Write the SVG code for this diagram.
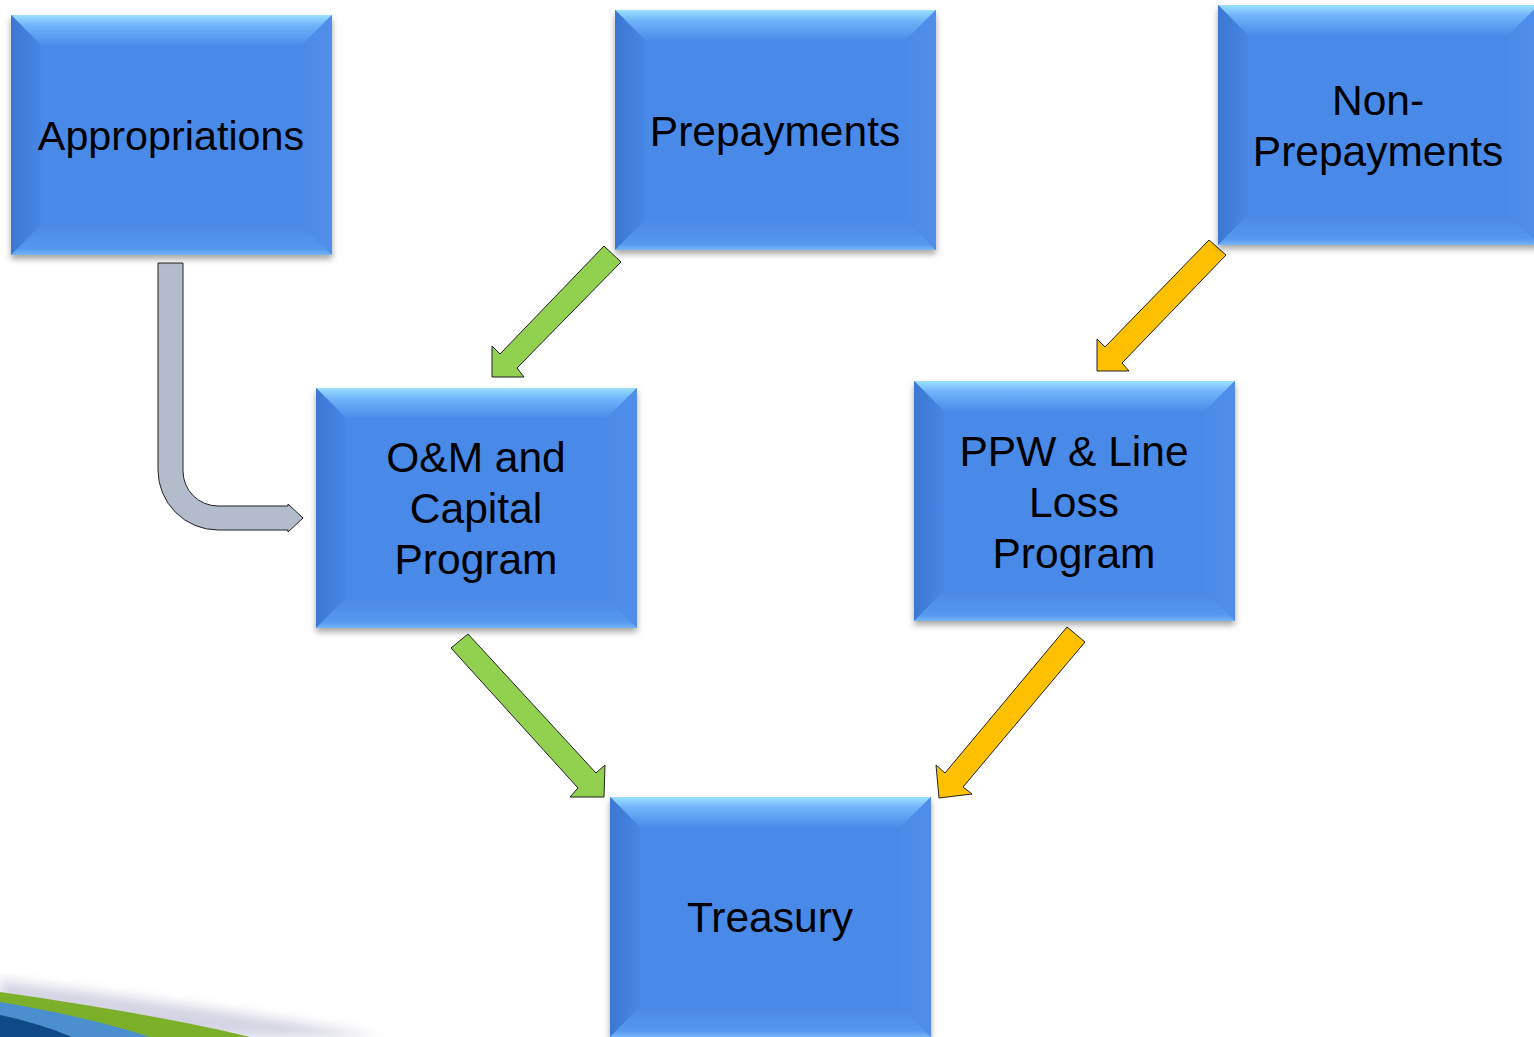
<svg xmlns="http://www.w3.org/2000/svg" xmlns:xlink="http://www.w3.org/1999/xlink" width="1534" height="1037" viewBox="0 0 1534 1037">
<defs>
<style>
.lbl{font-family:"Liberation Sans",Arial,sans-serif;font-size:42.5px;fill:#000;text-anchor:middle}
.lbl.sm{font-size:41.3px}
.arrow{stroke:#222;stroke-width:1}
.green{fill:#92d050}
.orange{fill:#ffc000}
.gray{fill:#b3bccb}
</style>
<linearGradient id="gTop" x1="0" y1="0" x2="0" y2="1"><stop offset="0" stop-color="#9be0ff"/><stop offset="0.35" stop-color="#6fb4fa"/><stop offset="1" stop-color="#4c8ce8"/></linearGradient>
<linearGradient id="gLeft" x1="0" y1="0" x2="1" y2="0"><stop offset="0" stop-color="#3a78d2"/><stop offset="1" stop-color="#4887e5"/></linearGradient>
<linearGradient id="gRight" x1="0" y1="0" x2="1" y2="0"><stop offset="0" stop-color="#4b8ae7"/><stop offset="1" stop-color="#4f8fea"/></linearGradient>
<linearGradient id="gBot" x1="0" y1="0" x2="0" y2="1"><stop offset="0" stop-color="#4a89e6"/><stop offset="0.8" stop-color="#5698ee"/><stop offset="1" stop-color="#75b6f8"/></linearGradient>
<filter id="sh" x="-10%" y="-10%" width="120%" height="125%"><feDropShadow dx="0" dy="4" stdDeviation="3" flood-color="#000" flood-opacity="0.35"/></filter>
<filter id="blur"><feGaussianBlur stdDeviation="6"/></filter>
<g id="box">
<rect x="0" y="0" width="321" height="240" fill="#4a89e8" filter="url(#sh)"/>
<path d="M0,0 L321,0 L291,30 L30,30 Z" fill="url(#gTop)"/>
<path d="M0,0 L30,30 L30,210 L0,240 Z" fill="url(#gLeft)"/>
<path d="M321,0 L321,240 L291,210 L291,30 Z" fill="url(#gRight)"/>
<path d="M0,240 L30,210 L291,210 L321,240 Z" fill="url(#gBot)"/>
</g>
</defs>
<rect width="1534" height="1037" fill="#ffffff"/>

<g id="swoosh">
<path d="M0,980 C120,995 260,1015 380,1037 L0,1037 Z" fill="#a0a0c0" opacity="0.45" filter="url(#blur)"/>
<path d="M0,992 C90,1005 180,1020 250,1037 L0,1037 Z" fill="#7cb02a"/>
<path d="M0,1002 C60,1012 110,1024 150,1037 L0,1037 Z" fill="#4b8fcf"/>
<path d="M0,1015 C25,1020 50,1028 72,1037 L0,1037 Z" fill="#0f4a86"/>
</g>

<g id="connectors">
<path class="arrow gray" d="M158,263 L183,263 L183,471 A35,35 0 0 0 218,506 L288,506 L288,504 L303,518 L288,532 L288,530 L218,530 A60,60 0 0 1 158,470 Z"/>
<polygon class="arrow green" points="604,246 621,262 517,368 524,377 492,377 492,346 500,354"/>
<polygon class="arrow green" points="451,648 468,634 596,773 605,765 604,797 570,797 578,788"/>
<polygon class="arrow orange" points="1209,240 1226,255 1122,363 1129,371 1097,371 1097,339 1105,347"/>
<polygon class="arrow orange" points="1067,627 1085,642 963,787 972,794 939,798 936,765 945,773"/>
</g>

<g id="appropriations">
<use xlink:href="#box" x="11" y="15"/>
<text class="lbl sm" x="171" y="150">Appropriations</text>
</g>
<g id="prepayments">
<use xlink:href="#box" x="615" y="10"/>
<text class="lbl" x="775" y="146">Prepayments</text>
</g>
<g id="non-prepayments">
<use xlink:href="#box" x="1218" y="5"/>
<text class="lbl" x="1378" y="115">Non-</text>
<text class="lbl" x="1378" y="166">Prepayments</text>
</g>
<g id="om-capital">
<use xlink:href="#box" x="316" y="388"/>
<text class="lbl" x="476" y="472">O&amp;M and</text>
<text class="lbl" x="476" y="523">Capital</text>
<text class="lbl" x="476" y="574">Program</text>
</g>
<g id="ppw-line-loss">
<use xlink:href="#box" x="914" y="381"/>
<text class="lbl" x="1074" y="466">PPW &amp; Line</text>
<text class="lbl" x="1074" y="517">Loss</text>
<text class="lbl" x="1074" y="568">Program</text>
</g>
<g id="treasury">
<use xlink:href="#box" x="610" y="797"/>
<text class="lbl" x="770" y="932">Treasury</text>
</g>
</svg>
